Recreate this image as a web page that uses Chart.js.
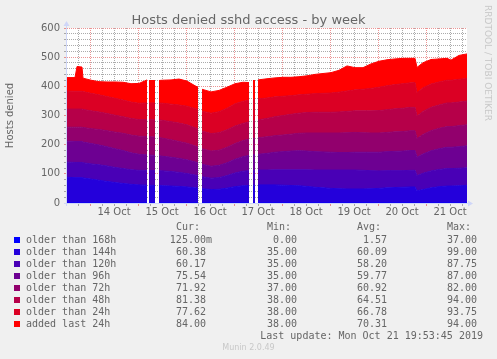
<!DOCTYPE html>
<html>
<head>
<meta charset="utf-8">
<script src="https://cdn.jsdelivr.net/npm/chart.js@4.4.1/dist/chart.umd.min.js"></script>
<style>
  body { margin: 0; background: #f0f0f0; }
  #wrap { position: relative; width: 497px; height: 359px; overflow: hidden; }
  #chart { position: absolute; left: 0; top: 0; }
  .t { position: absolute; white-space: pre; color: #666; }
  .mono { font: 10px "DejaVu Sans Mono", monospace; line-height: 12px; }
  .r { text-align: right; }
  .box { position: absolute; width: 6px; height: 6px; }
  #title { left: 0; width: 497px; top: 12px; text-align: center; font: 13px "DejaVu Sans", sans-serif; line-height: 15px; }
  #mark { left: 493px; top: 5px; font: 9px "DejaVu Sans", sans-serif; line-height: 10px; color: #c8c8c8;
          transform-origin: 0 0; transform: rotate(90deg); }
  #munin { left: 0; width: 497px; top: 343px; text-align: center; font: 8px "DejaVu Sans", sans-serif; line-height: 10px; color: #c8c8c8; }
</style>
</head>
<body>
<div id="wrap">
  <canvas id="chart" width="497" height="359"></canvas>
  <div class="t" id="title">Hosts denied sshd access - by week</div>
  <div class="t" id="mark">RRDTOOL / TOBI OETIKER</div>
  <div class="t" id="munin">Munin 2.0.49</div>
</div>
<script>
// hours since start of the graph (start = 13 Oct ~11:40), nulls mark the gaps
const hours = [0, 4, 5, 7.5, 8, 12, 16, 20, 24, 28, 32, 36, 40, 40.5, 41, 44, 45, 46, 48, 52,
  56, 60, 64, 65.5, 66.5, 67.5, 72, 76, 80, 84, 88, 91, 92, 93, 94, 94.75, 95.5, 100, 104, 108,
  112, 116, 120, 124, 128, 132, 136, 140, 144, 148, 152, 156, 160, 164, 168, 172, 174, 175, 178, 182,
  186, 190, 192, 196, 200];

const older168 = [0,0,0,0,0, 0,0,0,0,0, 0,0,0,null,0, 0,null,0,0,0, 0,0,0,0,null, 0,0,0,0,0,
  0,0,null,0,0, null,0,0,0,0, 0,0,0,0,0, 0,0,0,0,0, 0,0,0,0,0, 0,0,0,0,0, 0,0,0,0,0.125];
const older144 = [88,87,87,87,86,82,78,74,70,67,64,62,61,null,61,60,null,60,59,58,57,55,52,51,null,
  49,46,47,51,56,59,60,null,61,61,null,62,62,62,61,60,59,57,54,52,50,49,48,48,48,49,50,52,53,54,
  55,55,42,46,52,56,58,58,59,60.38];
const older120 = [52,52,52,52,52,52,53,53,52,51,50,50,51,null,51,51,null,51,51,50,48,46,44,43,null,
  41,39,40,43,47,50,51,null,51,51,null,51,51,52,53,54,55,57,59,61,63,64,65,65,64,62,60,59,58,57,
  57,57,52,56,58,59,60,60,60,60.17];
const older96 = [72,72,72,72,71,70,68,66,64,62,58,55,53,null,53,52,null,51,50,49,48,47,45,44,null,
  43,41,42,44,47,50,52,null,53,53,null,54,57,60,62,64,65,64,63,62,61,60,60,61,62,63,64,65,66,67,
  68,68,63,66,69,71,73,73,74,75.54];
const older72 = [48,49,49,49,50,51,53,55,57,59,61,62,63,null,63,63,null,63,62,60,58,57,55,54,null,
  53,52,52,53,54,55,56,null,57,57,null,57,57,57,57,58,60,62,64,65,66,67,68,68,67,66,66,66,67,67,
  68,68,64,67,69,70,71,71,72,71.92];
const older48 = [62,62,62,62,62,61,60,59,58,57,57,57,58,null,58,59,null,60,61,62,63,63,62,62,null,
  61,60,60,60,60,59,59,null,60,60,null,61,63,65,67,68,69,70,71,71,71,72,73,74,75,76,77,78,79,80,
  80,80,77,79,80,80,81,81,81,81.38];
const older24 = [62,61,61,61,61,60,59,58,58,57,56,56,57,null,57,58,null,58,59,60,62,64,66,67,null,
  68,70,72,74,76,76,74,null,73,73,null,72,70,68,66,64,63,63,64,65,66,68,70,72,74,77,80,82,83,84,
  84,85,80,81,80,79,78,78,78,77.62];
const added24 = [46,47,85,83,46,45,45,50,56,61,63,68,79,null,77,77,null,77,79,83,89,86,78,76,null,
  75,73,73,72,69,65,61,null,65,65,null,65,66,65,65,63,62,63,66,68,70,75,86,76,74,84,89,89,88,87,
  84,83,87,86,84,79,75,69,82,84];

const seriesNames = ['older than 168h', 'older than 144h', 'older than 120h', 'older than 96h',
  'older than 72h', 'older than 48h', 'older than 24h', 'added last 24h'];
const seriesColors = ['#0000ff', '#2400db', '#4900b6', '#6d0092', '#92006d', '#b60049', '#db0024', '#ff0000'];
const curVals = ['125.00m', '60.38', '60.17', '75.54', '71.92', '81.38', '77.62', '84.00'];
const minVals = ['0.00', '35.00', '35.00', '35.00', '37.00', '38.00', '38.00', '38.00'];
const avgVals = ['1.57', '60.09', '58.20', '59.77', '60.92', '64.51', '66.78', '70.31'];
const maxVals = ['37.00', '99.00', '87.75', '87.00', '82.00', '94.00', '93.75', '94.00'];
const dayLabels = ['14 Oct', '15 Oct', '16 Oct', '17 Oct', '18 Oct', '19 Oct', '20 Oct', '21 Oct'];
const lastUpdate = 'Last update: Mon Oct 21 19:53:45 2019';

const seriesValues = [older168, older144, older120, older96, older72, older48, older24, added24];

const FONT = '#666666';
const AXIS = '#cfd6f8';
const GRID = 'rgba(143,143,143,0.75)';
const MGRID = 'rgba(222,79,79,0.6)';
const FIRST_MIDNIGHT = 11.5; // 14 Oct 00:00 in graph hours

const datasets = seriesValues.map((vals, i) => ({
  label: seriesNames[i],
  data: vals.map((v, j) => ({ x: hours[j], y: v })),
  backgroundColor: seriesColors[i],
  borderColor: seriesColors[i],
  borderWidth: 1,
  pointRadius: 0,
  tension: 0,
  spanGaps: false,
  fill: i === 0 ? 'origin' : '-1',
}));

const muninFrame = {
  id: 'muninFrame',
  beforeDraw(chart) {
    const { ctx, chartArea: a } = chart;
    ctx.save();
    ctx.fillStyle = '#ffffff';
    ctx.fillRect(a.left, a.top, a.right - a.left, a.bottom - a.top);
    ctx.restore();
  },
  afterDraw(chart) {
    const { ctx, chartArea: a } = chart;
    ctx.save();
    ctx.strokeStyle = AXIS;
    ctx.fillStyle = AXIS;
    ctx.lineWidth = 1;
    ctx.beginPath();
    ctx.moveTo(a.left - 3, a.bottom + 0.5);
    ctx.lineTo(a.right + 2, a.bottom + 0.5);
    ctx.moveTo(a.left - 0.5, a.bottom + 3);
    ctx.lineTo(a.left - 0.5, a.top - 2);
    ctx.stroke();
    // arrows
    ctx.beginPath();
    ctx.moveTo(a.right + 1, a.bottom - 2.5);
    ctx.lineTo(a.right + 6, a.bottom + 0.5);
    ctx.lineTo(a.right + 1, a.bottom + 3.5);
    ctx.closePath();
    ctx.fill();
    ctx.beginPath();
    ctx.moveTo(a.left - 3.5, a.top - 2);
    ctx.lineTo(a.left - 0.5, a.top - 7);
    ctx.lineTo(a.left + 2.5, a.top - 2);
    ctx.closePath();
    ctx.fill();
    ctx.restore();
  }
};

new Chart(document.getElementById('chart'), {
  type: 'line',
  data: { datasets },
  options: {
    responsive: false,
    animation: false,
    events: [],
    layout: { padding: { top: 28, right: 30, left: 0, bottom: 0 } },
    plugins: { legend: { display: false }, tooltip: { enabled: false } },
    scales: {
      x: {
        type: 'linear',
        min: 0,
        max: 200,
        z: 1,
        afterBuildTicks: (s) => {
          const t = [];
          for (let v = FIRST_MIDNIGHT - 6; v < 200; v += 6) t.push({ value: v });
          s.ticks = t;
        },
        afterFit: (s) => { s.height = 156; },
        grid: {
          color: (c) => ((c.tick.value - FIRST_MIDNIGHT) % 24 === 0 ? MGRID : GRID),
          tickLength: 3,
        },
        border: { display: false, dash: [1, 1] },
        ticks: {
          autoSkip: false,
          maxRotation: 0,
          padding: 0,
          color: FONT,
          font: { family: 'DejaVu Sans', size: 10 },
          callback: (v) => {
            const k = (v - FIRST_MIDNIGHT - 12) / 24;
            return Number.isInteger(k) && k >= 0 ? dayLabels[k] : '';
          },
        },
      },
      y: {
        stacked: true,
        min: 0,
        max: 600,
        z: 1,
        afterFit: (s) => { s.width = 67; },
        grid: {
          color: (c) => (c.tick.value % 100 === 0 ? MGRID : GRID),
          tickLength: 3,
        },
        border: { display: false, dash: [1, 1] },
        ticks: {
          stepSize: 20,
          autoSkip: false,
          padding: 4,
          color: FONT,
          font: { family: 'DejaVu Sans', size: 10 },
          callback: (v) => (v % 100 === 0 ? String(v) : ''),
        },
        title: {
          display: true,
          text: 'Hosts denied',
          color: FONT,
          font: { family: 'DejaVu Sans', size: 10 },
          padding: { top: 4, bottom: 0 },
        },
      },
    },
  },
  plugins: [muninFrame],
});

// legend table below the graph
const wrap = document.getElementById('wrap');
function addText(txt, cls, left, top, rightEdge) {
  const d = document.createElement('div');
  d.className = 't mono' + (cls ? ' ' + cls : '');
  d.textContent = txt;
  d.style.top = top + 'px';
  if (rightEdge != null) d.style.right = (497 - rightEdge) + 'px';
  else d.style.left = left + 'px';
  wrap.appendChild(d);
}
addText('Cur:', '', 176, 221);
addText('Min:', '', 267, 221);
addText('Avg:', '', 357, 221);
addText('Max:', '', 447, 221);
seriesNames.forEach((name, i) => {
  const top = 234 + i * 12;
  const b = document.createElement('div');
  b.className = 'box';
  b.style.left = '14px';
  b.style.top = (top + 3) + 'px';
  b.style.background = seriesColors[i];
  wrap.appendChild(b);
  addText(name, '', 26, top);
  const cur = curVals[i].endsWith('m') ? curVals[i] : curVals[i] + ' ';
  addText(cur, 'r', null, top, 212);
  addText(minVals[i], 'r', null, top, 297);
  addText(avgVals[i], 'r', null, top, 387);
  addText(maxVals[i], 'r', null, top, 477);
});
addText(lastUpdate, 'r', null, 330, 483);
</script>
</body>
</html>
